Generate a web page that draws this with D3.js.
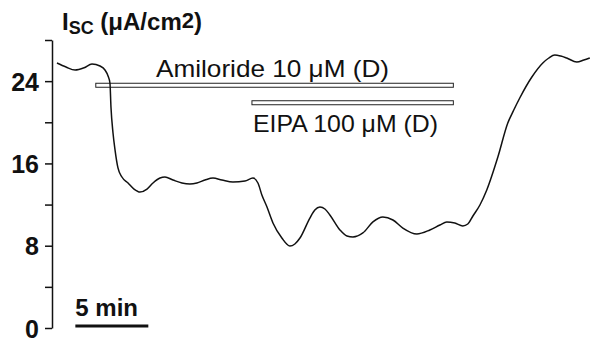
<!DOCTYPE html>
<html>
<head>
<meta charset="utf-8">
<script src="https://cdn.jsdelivr.net/npm/d3@7"></script>
<style>
  body { margin: 0; background: #fff; }
  svg { display: block; font-family: "Liberation Sans", Arial, sans-serif; }
</style>
</head>
<body>
<div id="chart"></div>
<script>
// Isc trace, time in minutes, current in uA/cm2
const times = [0.34, 0.96, 1.58, 2.2, 2.74, 3.29, 3.63, 3.84, 3.97, 4.04, 4.18, 4.32, 4.52, 4.79, 5.21, 5.62,
  6.03, 6.51, 6.92, 7.4, 7.74, 8.29, 8.9, 9.45, 9.93, 10.48, 11.03, 11.64, 12.4, 13.22, 13.77, 14.11,
  14.38, 14.73, 15.14, 15.75, 16.3, 16.64, 16.99, 17.67, 18.01, 18.36, 18.7, 19.04, 19.73, 20.21, 20.62,
  21.3, 21.99, 22.67, 23.36, 24.04, 25.0, 25.89, 26.58, 27.05, 27.6, 28.15, 28.49, 28.84, 29.32, 29.79,
  30.55, 31.23, 31.64, 32.05, 32.88, 33.63, 34.04, 34.45, 34.86, 35.27, 35.96, 36.44, 36.85];
const isc = [25.76, 25.37, 25.08, 25.3, 25.67, 25.47, 25.08, 24.5, 23.82, 21.49, 18.96, 17.3, 15.56, 14.68, 14.1, 13.51,
  13.22, 13.51, 14.1, 14.58, 14.68, 14.39, 14.1, 14.0, 14.1, 14.39, 14.58, 14.39, 14.19, 14.29, 14.58, 14.1,
  12.93, 11.76, 10.21, 8.75, 7.97, 8.17, 8.75, 10.69, 11.47, 11.76, 11.57, 10.99, 9.53, 8.94, 8.85,
  9.24, 10.31, 10.79, 10.5, 9.72, 9.14, 9.53, 10.01, 10.31, 10.2, 9.92, 10.11, 10.89, 11.96, 13.42,
  16.62, 19.93, 21.19, 22.36, 24.4, 25.76, 26.25, 26.54, 26.44, 26.25, 25.86, 26.05, 26.25];

// drug application bars
const drugLabels = ['Amiloride 10 \u03bcM (D)', 'EIPA 100 \u03bcM (D)'];
const drugStart = [3.0, 13.7];
const drugEnd = [27.5, 27.5];
const drugLevel = [23.6, 21.9];

const yTicks = [0, 4, 8, 12, 16, 20, 24, 28];
const yLabels = ['0', '', '8', '', '16', '', '24', ''];
const scaleBarMin = 5;

const width = 593, height = 342;

const svg = d3.select('#chart').append('svg')
  .attr('width', width)
  .attr('height', height);

const x = d3.scaleLinear().domain([0, 37]).range([52, 592]);
const y = d3.scaleLinear().domain([0, 28]).range([328, 40]);

// Y axis
const yAxis = svg.append('g')
  .attr('transform', `translate(${x(0)},0)`)
  .call(d3.axisLeft(y)
    .tickValues(yTicks)
    .tickFormat((d, i) => yLabels[i])
    .tickSize(7)
    .tickSizeOuter(0)
    .tickPadding(6));

yAxis.select('.domain').attr('stroke', '#111').attr('stroke-width', 1.5);
yAxis.selectAll('.tick line').attr('stroke', '#111').attr('stroke-width', 1.5);
yAxis.selectAll('.tick text')
  .attr('fill', '#111')
  .style('font-family', '"Liberation Sans", Arial, sans-serif')
  .style('font-size', '25px')
  .style('font-weight', 'bold')
  .attr('dy', '0.36em');

// Title
const title = svg.append('text')
  .attr('x', 62)
  .attr('y', 30)
  .attr('fill', '#111')
  .style('font-size', '24px')
  .style('font-weight', 'bold');
title.append('tspan').text('I');
title.append('tspan').attr('dy', 4).style('font-size', '18px').text('SC');
title.append('tspan').attr('dy', -4).text(' (\u03bcA/cm');
title.append('tspan').attr('dy', -2).style('font-size', '22px').text('2');
title.append('tspan').attr('dy', 2).text(')');

// Drug bars
const drugs = drugLabels.map((label, i) => ({
  label, start: drugStart[i], end: drugEnd[i], level: drugLevel[i]
}));

svg.selectAll('.drug-bar')
  .data(drugs)
  .enter()
  .append('rect')
  .attr('class', 'drug-bar')
  .attr('x', d => x(d.start))
  .attr('y', d => y(d.level) - 2)
  .attr('width', d => x(d.end) - x(d.start))
  .attr('height', 4)
  .attr('fill', '#fff')
  .attr('stroke', '#222')
  .attr('stroke-width', 1);

// Drug labels: first above its bar, second below
svg.append('text')
  .attr('x', 156)
  .attr('y', 77)
  .attr('fill', '#111')
  .attr('textLength', 233)
  .attr('lengthAdjust', 'spacingAndGlyphs')
  .style('font-size', '24px')
  .text(drugs[0].label);

svg.append('text')
  .attr('x', 253)
  .attr('y', 132)
  .attr('fill', '#111')
  .attr('textLength', 185)
  .attr('lengthAdjust', 'spacingAndGlyphs')
  .style('font-size', '24px')
  .text(drugs[1].label);

// Trace
const points = times.map((t, i) => ({ t, v: isc[i] }));
const line = d3.line()
  .x(d => x(d.t))
  .y(d => y(d.v))
  .curve(d3.curveMonotoneX);

svg.append('path')
  .datum(points)
  .attr('d', line)
  .attr('fill', 'none')
  .attr('stroke', '#111')
  .attr('stroke-width', 1.5);

// Time scale bar
const sbStart = 1.6;
svg.append('line')
  .attr('x1', x(sbStart))
  .attr('x2', x(sbStart + scaleBarMin))
  .attr('y1', 326)
  .attr('y2', 326)
  .attr('stroke', '#111')
  .attr('stroke-width', 3);

svg.append('text')
  .attr('x', x(sbStart))
  .attr('y', 316)
  .attr('fill', '#111')
  .style('font-size', '24px')
  .style('font-weight', 'bold')
  .text(`${scaleBarMin} min`);
</script>
</body>
</html>
